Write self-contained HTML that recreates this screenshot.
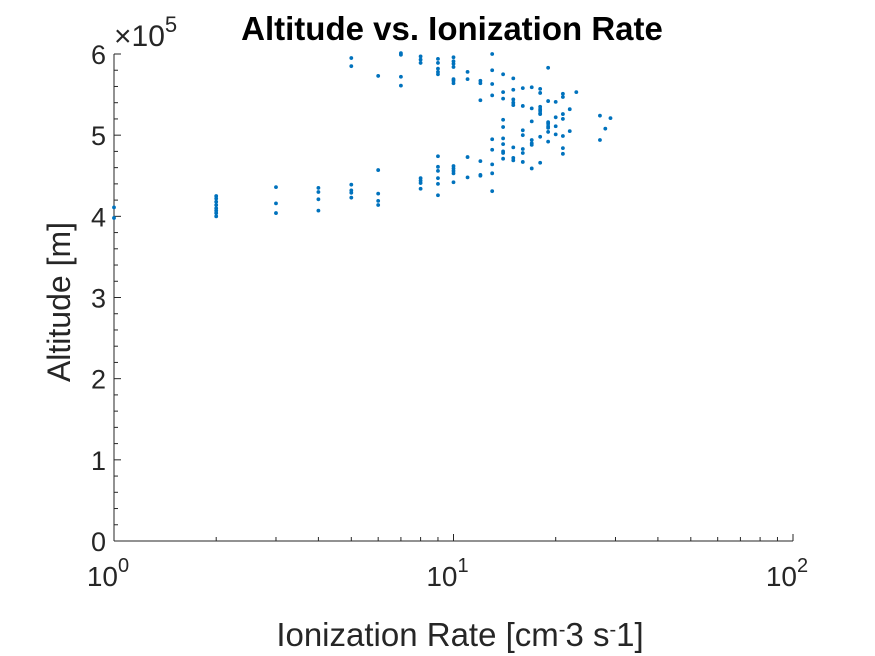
<!DOCTYPE html>
<html><head><meta charset="utf-8"><style>
body{margin:0;background:#fff;}
svg{display:block;font-family:"Liberation Sans",sans-serif;}
</style></head><body>
<svg id="chart" width="875" height="656">
<rect width="875" height="656" fill="#fff"/>
<text x="452" y="40" text-anchor="middle" font-size="33" font-weight="bold" fill="#000">Altitude vs. Ionization Rate</text>
<text x="460" y="646" text-anchor="middle" font-size="33" fill="#262626">Ionization Rate [cm<tspan dy="-10" font-size="20">-</tspan><tspan dy="10">3 s</tspan><tspan dy="-10" font-size="20">-</tspan><tspan dy="10">1]</tspan></text>
<text transform="translate(70,302) rotate(-90)" text-anchor="middle" font-size="32" fill="#262626">Altitude [m]</text>
<text x="114" y="46" font-size="30" fill="#262626">×10<tspan dy="-14" font-size="22">5</tspan></text>
<g id="axes"></g>
<g id="points"></g>
</svg>
<script>
const xCats = [1,1,2,2,2,2,2,2,2,2,3,3,3,4,4,4,4,5,5,5,5,5,5,6,6,6,6,6,7,7,7,7,8,8,8,8,8,8,8,9,9,9,9,9,9,9,9,9,9,9,10,10,10,10,10,10,10,10,10,10,10,10,11,11,11,11,12,12,12,12,12,12,13,13,13,13,13,13,13,13,13,14,14,14,14,14,14,14,14,14,14,15,15,15,15,15,15,15,15,16,16,16,16,16,16,16,17,17,17,17,17,17,17,18,18,18,18,18,18,18,18,18,19,19,19,19,19,19,19,19,20,20,20,20,21,21,21,21,21,21,21,22,22,23,27,27,28,29];
const altitudes = [4.11,3.98,4.25,4.22,4.18,4.14,4.10,4.07,4.04,4.00,4.36,4.16,4.04,4.35,4.30,4.21,4.07,5.95,5.85,4.39,4.32,4.29,4.23,5.73,4.57,4.28,4.19,4.14,6.01,5.99,5.72,5.61,5.97,5.93,5.89,4.47,4.44,4.41,4.34,5.94,5.89,5.82,5.78,5.75,4.74,4.61,4.56,4.47,4.40,4.26,5.96,5.91,5.88,5.84,5.69,5.67,5.64,4.62,4.59,4.56,4.53,4.42,5.78,5.69,4.73,4.48,5.67,5.64,5.43,4.68,4.51,4.50,6.00,5.80,5.63,5.49,4.95,4.82,4.64,4.53,4.31,5.75,5.53,5.45,5.19,5.10,4.96,4.89,4.80,4.78,4.71,5.70,5.56,5.44,5.40,5.37,4.85,4.72,4.69,5.58,5.36,5.06,5.00,4.83,4.78,4.67,5.59,5.33,5.17,4.94,4.90,4.88,4.59,5.57,5.52,5.35,5.32,5.30,5.27,5.26,4.98,4.66,5.83,5.42,5.16,5.14,5.11,5.09,5.04,4.92,5.41,5.22,5.11,5.01,5.51,5.47,5.26,5.20,4.99,4.84,4.77,5.32,5.05,5.53,5.24,4.94,5.08,5.21];
const yTicks = [0,1,2,3,4,5,6];
const xTickExps = [0,1,2];
const NS='http://www.w3.org/2000/svg';
const L=114,R=793,T=54,B=541;
function xs(v){return L+(R-L)*Math.log10(v)/2;}
function ys(v){return B-(B-T)*v/6;}
function mk(tag,attrs,parent){const e=document.createElementNS(NS,tag);for(const k in attrs)e.setAttribute(k,attrs[k]);parent.appendChild(e);return e;}
const ax=document.getElementById('axes');
let e;
e=mk('line',{x1:L,y1:B,x2:R,y2:B,stroke:'#262626','stroke-width':1},ax);


e=mk('line',{x1:L,y1:T,x2:L,y2:B,stroke:'#262626','stroke-width':1},ax);


for(let v=0;v<=6.0001;v+=0.2){
  const y=ys(v);const major=Math.abs(v-Math.round(v))<1e-6;
  e=mk('line',{x1:L,y1:y,x2:L+(major?7:4),y2:y,stroke:'#262626','stroke-width':1},ax);
  
  
}
yTicks.forEach(v=>{
  e=mk('text',{x:L-8,y:ys(v)+10,'text-anchor':'end','font-size':27,fill:'#262626'},ax);
  e.textContent=v;
  
  
});
for(let d=0;d<2;d++)for(let m=1;m<=10;m++){
  const v=m*Math.pow(10,d);const x=xs(v);const major=(m===1||m===10);
  e=mk('line',{x1:x,y1:B,x2:x,y2:B-(major?7:4),stroke:'#262626','stroke-width':1},ax);
  
  
}
xTickExps.forEach(p=>{
  e=mk('text',{x:xs(Math.pow(10,p))-6,y:B+45,'text-anchor':'middle','font-size':28,fill:'#262626'},ax);
  e.innerHTML='10<tspan dy="-14" font-size="20">'+p+'</tspan>';
  
  
});
const pg=document.getElementById('points');
for(let i=0;i<xCats.length;i++){
  e=mk('circle',{cx:xs(xCats[i]),cy:ys(altitudes[i]),r:1.9,fill:'#0072BD'},pg);
  
  
}
</script>
</body></html>
